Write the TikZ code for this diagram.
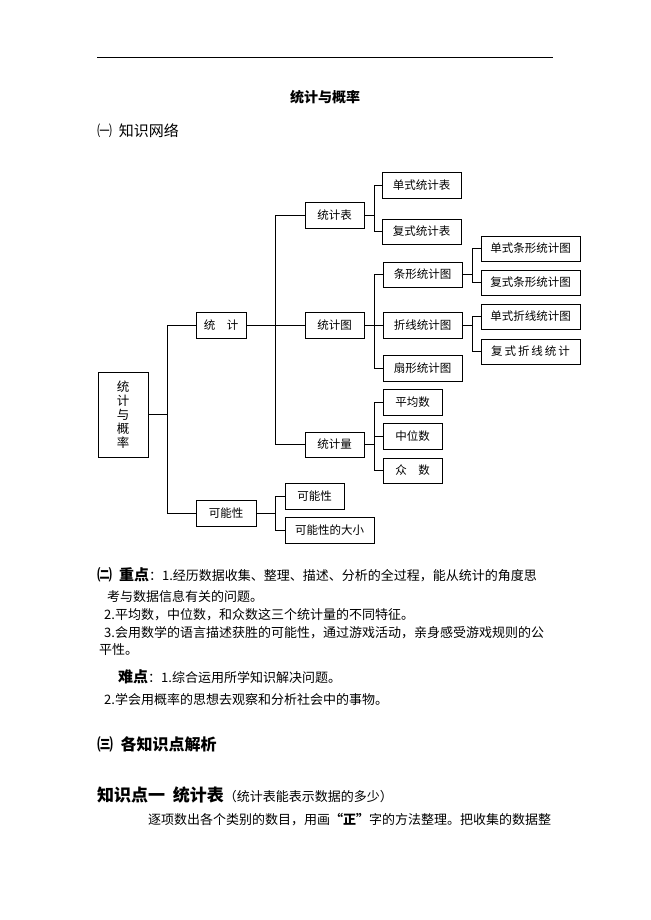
\documentclass[tikz,border=0pt]{standalone}
\usepackage{fontspec}
\setmainfont{Noto Sans CJK SC}
\begin{document}
\begin{tikzpicture}[x=1pt,y=-1pt,
  bx/.style={draw,line width=0.9pt,font=\fontsize{11.5}{13}\selectfont,inner sep=0pt},
  ln/.style={line width=0.8pt},
  tx/.style={anchor=west,inner sep=0pt,font=\fontsize{13}{15}\selectfont},
  hd/.style={anchor=west,inner sep=0pt,font=\fontsize{16}{19}\selectfont\bfseries}]
\useasboundingbox (0,0) rectangle (650,920);
\draw[line width=0.6pt] (97,57) coordinate (l1) -- (553,57) coordinate (l2);
\node[inner sep=0pt,font=\fontsize{14}{16}\selectfont\bfseries] (title) at (325,97) {统计与概率};
\node[hd,font=\fontsize{15}{18}\selectfont] (h1) at (97,131) {㈠\ \ 知识网络};
\newcommand{\bxx}[6]{\node[bx,minimum width=#4-#2,minimum height=#5-#3] (#1) at ({(#2+#4)/2},{(#3+#5)/2}) {#6};}
\node[bx,minimum width=50,minimum height=85,align=center,font=\fontsize{12.5}{14}\selectfont] (root) at (123,414.5) {统\\计\\与\\概\\率};
\bxx{tj}{196}{312}{246}{338}{统\quad 计}
\bxx{kn}{196}{500}{256}{526}{可能性}
\bxx{tjb}{305}{202}{364}{228}{统计表}
\bxx{tjt}{305}{312}{364}{338}{统计图}
\bxx{tjl}{305}{432}{364}{457}{统计量}
\bxx{dsb}{382}{172}{461}{198}{单式统计表}
\bxx{fsb}{382}{219}{461}{244}{复式统计表}
\bxx{tx}{383}{262}{462}{287}{条形统计图}
\bxx{zx}{383}{312}{462}{338}{折线统计图}
\bxx{sx}{383}{355}{462}{381}{扇形统计图}
\bxx{pj}{383}{389}{442}{415}{平均数}
\bxx{zw}{383}{423}{442}{449}{中位数}
\bxx{zs}{383}{458}{442}{483}{众\quad 数}
\bxx{dtx}{481}{236}{580}{261}{单式条形统计图}
\bxx{ftx}{481}{270}{580}{295}{复式条形统计图}
\bxx{dzx}{481}{304}{580}{329}{单式折线统计图}
\bxx{fzx}{481}{339}{580}{364}{复\,式\,折\,线\,统\,计}
\bxx{knx}{285}{483}{344}{509}{可能性}
\bxx{kdx}{285}{517}{374}{543}{可能性的大小}
\foreach \p/\t/\cs in {root/167/{tj,kn}, tj/275/{tjb,tjt,tjl}, tjb/374/{dsb,fsb}, tjt/374/{tx,zx,sx},
  tjl/374/{pj,zw,zs}, tx/472/{dtx,ftx}, zx/472/{dzx,fzx}, kn/275/{knx,kdx}}{
  \draw[ln] (\p.east) -- (\t,0 |- \p.east);
  \foreach \c in \cs {\draw[ln] (\c.west) -| (\t,0 |- \p.east);}
}
\node[tx] (z1) at (97,575) {{\fontsize{15}{18}\selectfont\bfseries ㈡\ \ 重点}：1.经历数据收集、整理、描述、分析的全过程，能从统计的角度思};
\node[tx] (z2) at (107,597) {考与数据信息有关的问题。};
\node[tx] (z3) at (104,615) {2.平均数，中位数，和众数这三个统计量的不同特征。};
\node[tx] (z4) at (104,633) {3.会用数学的语言描述获胜的可能性，通过游戏活动，亲身感受游戏规则的公};
\node[tx] (z5) at (99,650) {平性。};
\node[tx] (n1) at (118,677) {{\fontsize{15}{18}\selectfont\bfseries 难点}：1.综合运用所学知识解决问题。};
\node[tx] (n2) at (104,700) {2.学会用概率的思想去观察和分析社会中的事物。};
\node[hd] (h3) at (97,744) {㈢\ \ 各知识点解析};
\node[hd,font=\fontsize{17}{20}\selectfont\bfseries] (h4) at (97,795) {知识点一\ \ 统计表\fontsize{13}{15}\selectfont\mdseries（统计表能表示数据的多少）};
\node[tx] (p1) at (148,820) {逐项数出各个类别的数目，用画{\bfseries “正”}字的方法整理。把收集的数据整};
\end{tikzpicture}
\end{document}
